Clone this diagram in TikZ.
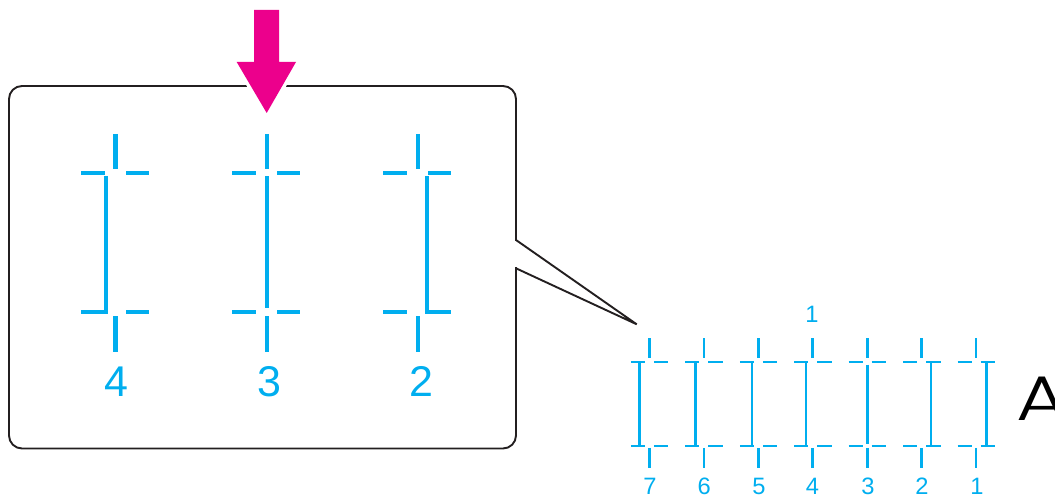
\documentclass[tikz,border=0pt]{standalone}
\usepackage{fontspec}
\setmainfont{Liberation Sans}
\newfontfamily\letterfont{Poppins Light}
\definecolor{cyanink}{HTML}{00AEEF}
\definecolor{magentaink}{HTML}{EC008C}
\definecolor{boxline}{HTML}{231F20}
\tikzset{
  bigline/.style={draw=cyanink, line width=4.2pt},
  smallline/.style={draw=cyanink, line width=2.6pt},
  frameline/.style={draw=boxline, line width=1.9pt},
  biglabel/.style={text=cyanink, font=\fontsize{43}{43}\selectfont, inner sep=0pt, anchor=base},
  smalllabel/.style={text=cyanink, font=\fontsize{23.7}{24}\selectfont, inner sep=0pt, anchor=base},
}
\begin{document}
\begin{tikzpicture}[x=1pt,y=-1pt]
\useasboundingbox (0,0) rectangle (1055,497);

% magnified frame with callout
\draw[frameline, rounded corners=13pt] (9,86) rectangle (516,448.5);
\fill[white] (513,241.5) rectangle (519,266.5);
\draw[frameline, line join=miter] (516,240) -- (636.7,324.3) -- (516,268.3);

% magenta arrow with white halo
\draw[white, line width=7pt, line join=miter] (254,10) -- (254,62) -- (236.7,62) -- (266.7,113) -- (296,62) -- (279,62) -- (279,10) -- cycle;
\fill[magentaink] (254,10) -- (254,62) -- (236.7,62) -- (266.7,113) -- (296,62) -- (279,62) -- (279,10) -- cycle;

% big patterns
\foreach \cx/\lab/\lx in {115.5/4/116.7, 266.6/3/269, 417.6/2/421}{
  \draw[bigline] (\cx,134) -- (\cx,169);
  \draw[bigline] (\cx-34.5,172.7) -- (\cx-11,172.7);
  \draw[bigline] (\cx+10.5,172.7) -- (\cx+33.5,172.7);
  \draw[bigline] (\cx-34.5,312) -- (\cx-11,312);
  \draw[bigline] (\cx+10.5,312) -- (\cx+33.5,312);
  \draw[bigline] (\cx,316) -- (\cx,351.7);
  \node[biglabel] (big\lab) at (\lx,396.7) {\lab};
}
% long verticals
\draw[bigline, line join=miter] (105.8,176.5) -- (105.8,312) -- (90,312);
\draw[bigline] (266.6,176.5) -- (266.6,308.2);
\draw[bigline, line join=miter] (426.6,176.5) -- (426.6,312) -- (440,312);

% small patterns
\foreach \i/\lab/\lx in {0/7/650, 1/6/704.3, 2/5/758.9, 3/4/812.5, 4/3/867.9, 5/2/922, 6/1/976.9}{
  \pgfmathsetmacro{\cx}{649.4+54.45*\i}
  \draw[smallline] (\cx,338.3) -- (\cx,358.3);
  \draw[smallline] (\cx-18.5,362) -- (\cx-4.5,362);
  \draw[smallline] (\cx+4.5,362) -- (\cx+19,362);
  \draw[smallline] (\cx-18.5,446) -- (\cx-4.5,446);
  \draw[smallline] (\cx+4.5,446) -- (\cx+19,446);
  \draw[smallline] (\cx,447.9) -- (\cx,467.7);
  \node[smalllabel] (small\lab) at (\lx,494.6) {\lab};
}
% small verticals
\foreach \x in {639.4, 695.3, 751.8, 806.1, 930.9, 986.2}{
  \draw[smallline] (\x,362) -- (\x,446);
}
\draw[smallline] (867.3,364.5) -- (867.3,443.5);

\node[smalllabel] (topone) at (812,322) {1};

\node[text=black, font=\letterfont\fontsize{63}{63}\selectfont, inner sep=0pt, anchor=base west] (letterA) at (1016.5,420.7) {\scalebox{1.25}[1]{A}};
\end{tikzpicture}
\end{document}
